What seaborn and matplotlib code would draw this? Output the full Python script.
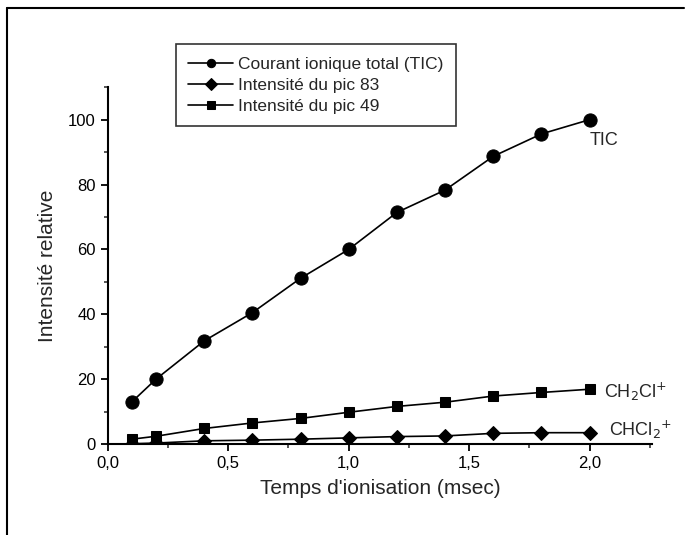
import numpy as np
import pandas as pd
import matplotlib
matplotlib.use('Agg')
import matplotlib.pyplot as plt
import seaborn as sns
from matplotlib.lines import Line2D
from matplotlib.ticker import MultipleLocator, FuncFormatter

# ionisation times (msec)
temps = [0.1, 0.2, 0.4, 0.6, 0.8, 1.0, 1.2, 1.4, 1.6, 1.8, 2.0]
# relative intensities
tic = [13.0, 20.0, 31.8, 40.5, 51.1, 60.0, 71.4, 78.3, 88.7, 95.6, 100.0]
pic_83 = [0.1, 0.3, 1.0, 1.2, 1.5, 1.9, 2.3, 2.5, 3.3, 3.5, 3.5]
pic_49 = [1.5, 2.4, 4.8, 6.5, 7.9, 9.8, 11.6, 12.9, 14.8, 15.9, 16.9]

series_names = ['Courant ionique total (TIC)', 'Intensité du pic 83', 'Intensité du pic 49']
markers = ['o', 'D', 's']
marker_sizes = [9.5, 7.5, 7.5]

df = pd.concat([
    pd.DataFrame({'temps': temps, 'val': tic, 'serie': series_names[0]}),
    pd.DataFrame({'temps': temps, 'val': pic_83, 'serie': series_names[1]}),
    pd.DataFrame({'temps': temps, 'val': pic_49, 'serie': series_names[2]}),
])

sns.set_theme(style='ticks')
plt.rcParams['font.family'] = ['Liberation Sans Narrow', 'Liberation Sans', 'DejaVu Sans']

fig = plt.figure(figsize=(6.91, 5.35), dpi=100)
ax = fig.add_axes([0.156, 0.170, 0.788, 0.667])

for name, m, ms in zip(series_names, markers, marker_sizes):
    sub = df[df['serie'] == name]
    sns.lineplot(data=sub, x='temps', y='val', ax=ax, color='black', lw=1.2,
                 marker=m, markersize=ms, markeredgecolor='black', label=name)

ax.set_xlim(0, 2.26)
ax.set_ylim(0, 110)
ax.xaxis.set_major_locator(MultipleLocator(0.5))
ax.xaxis.set_minor_locator(MultipleLocator(0.25))
ax.yaxis.set_major_locator(MultipleLocator(20))
ax.yaxis.set_minor_locator(MultipleLocator(10))
ax.xaxis.set_major_formatter(FuncFormatter(lambda v, p: f'{v:.1f}'.replace('.', ',')))
ax.tick_params(which='major', direction='out', length=5, width=1.3, labelsize=12, colors='black')
ax.tick_params(which='minor', direction='out', length=3, width=1.1)
sns.despine(ax=ax)
for s in ['left', 'bottom']:
    ax.spines[s].set_linewidth(1.5)
    ax.spines[s].set_color('black')

ax.set_xlabel("Temps d'ionisation (msec)", fontsize=15, labelpad=6)
ax.set_ylabel('Intensité relative', fontsize=15, labelpad=8)

# curve labels
ax.text(2.0, 93.5, 'TIC', fontsize=13, va='center', ha='left')
ax.text(2.06, 16.2, r'CH$_2$Cl$^{+}$', fontsize=13, va='center', ha='left')
ax.text(2.08, 4.3, r'CHCl$_2$$^{+}$', fontsize=13, va='center', ha='left')

leg = ax.legend(loc='upper left', bbox_to_anchor=(0.125, 1.12), borderaxespad=0,
                frameon=True, fancybox=False, fontsize=12.5, handlelength=2.6,
                labelspacing=0.35, borderpad=0.7, handletextpad=0.3)
leg.get_frame().set_edgecolor('black')
leg.get_frame().set_linewidth(1.2)
for h in leg.legend_handles:
    h.set_markersize(6)

# page frame (top and left edges)
fig.add_artist(Line2D([0.010, 0.99], [0.985, 0.985], transform=fig.transFigure, color='black', lw=1.5))
fig.add_artist(Line2D([0.010, 0.010], [0.0, 0.985], transform=fig.transFigure, color='black', lw=1.5))

fig.savefig('out.png', dpi=100)
